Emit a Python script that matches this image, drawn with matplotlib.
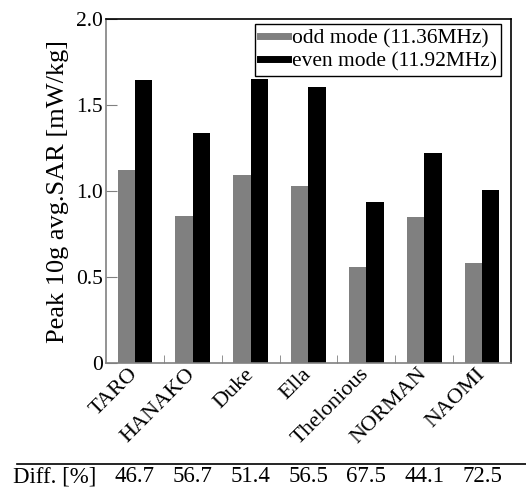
import numpy as np
import matplotlib
matplotlib.use('Agg')
import matplotlib.pyplot as plt
from matplotlib.lines import Line2D
from matplotlib import transforms
from matplotlib import rcParams

rcParams.update({'font.family': 'serif',
                 'font.serif': ['Liberation Serif', 'Times New Roman', 'DejaVu Serif'],
                 'font.size': 15.5})

models = ['TARO', 'HANAKO', 'Duke', 'Ella', 'Thelonious', 'NORMAN', 'NAOMI']
odd_sar = [1.122, 0.854, 1.094, 1.030, 0.558, 0.849, 0.584]
even_sar = [1.645, 1.339, 1.653, 1.607, 0.934, 1.223, 1.006]
diff_pct = ['46.7', '56.7', '51.4', '56.5', '67.5', '44.1', '72.5']
yticks = [0, 0.5, 1.0, 1.5, 2.0]
yticklabels = ['0', '0.5', '1.0', '1.5', '2.0']

GRAY = '#808080'

fig = plt.figure(figsize=(5.26, 4.88), dpi=100)
ax = fig.add_axes([0.2015, 0.256, 0.77, 0.705])

ind = np.arange(len(models))
w = 0.3
ax.bar(ind - w / 2, odd_sar, w, color=GRAY, label='odd mode (11.36MHz)')
ax.bar(ind + w / 2, even_sar, w, color='black', label='even mode (11.92MHz)')

ax.set_xlim(-0.5, len(models) - 0.5)
ax.set_ylim(0, 2.0)
ax.set_yticks(yticks)
ax.set_yticklabels(yticklabels)
ax.set_xticks(ind)
ax.set_xticklabels(models, rotation=45, ha='right', va='center', rotation_mode='anchor',
                   fontsize=16)
ax.tick_params(axis='x', length=0, pad=6)
ax.set_xticks(np.arange(0.5, len(models) - 0.5, 1.0), minor=True)
ax.tick_params(axis='x', which='minor', direction='in', length=6, color=GRAY)
ax.tick_params(axis='y', direction='in', length=8, color=GRAY, pad=2)

for s in ['left', 'bottom']:
    ax.spines[s].set_color(GRAY)
for s in ['top', 'right']:
    ax.spines[s].set_color('black')
for s in ax.spines.values():
    s.set_linewidth(1.2)

ax.set_ylabel('Peak 10g avg.SAR [mW/kg]', fontsize=19, labelpad=5)

handles = [Line2D([], [], color=GRAY, lw=5), Line2D([], [], color='black', lw=5)]
leg = ax.legend(handles, ['odd mode (11.36MHz)', 'even mode (11.92MHz)'],
                loc='upper right', bbox_to_anchor=(0.976, 0.985), fancybox=False,
                framealpha=1, edgecolor='black', handlelength=1.3, handletextpad=0.2,
                borderpad=0.2, labelspacing=0.15, borderaxespad=0, fontsize=15.5)
leg.get_frame().set_linewidth(1.0)

# table row underneath
fig.add_artist(Line2D([0.032, 1.0], [0.0492, 0.0492], color='black', lw=1.2))
fig.text(0.024, 0.002, 'Diff. [%]', ha='left', va='bottom', fontsize=16.5)
trans = transforms.blended_transform_factory(ax.transData, fig.transFigure)
for i, d in enumerate(diff_pct):
    ax.text(ind[i], 0.002, d, transform=trans, ha='center', va='bottom', clip_on=False,
            fontsize=16.5)

fig.savefig('out.png', dpi=100)
